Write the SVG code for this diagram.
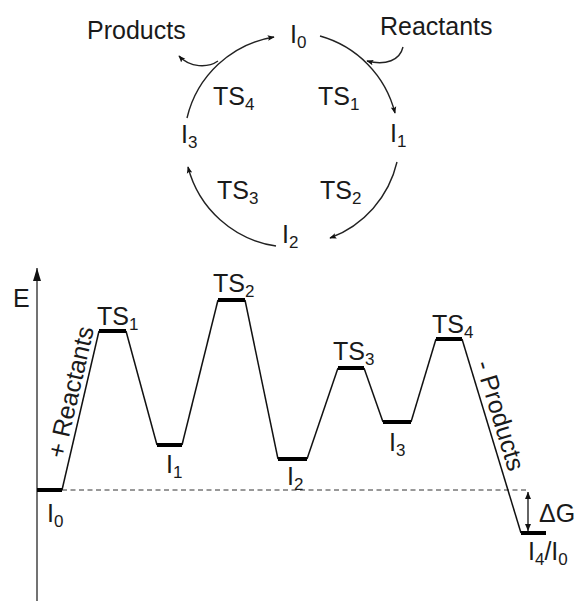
<svg xmlns="http://www.w3.org/2000/svg" width="578" height="601" viewBox="0 0 578 601">
<style>
text{font-family:"Liberation Sans",Arial,sans-serif;font-size:25px;fill:#1a1a1a}
.s{font-size:17px}
.arc{fill:none;stroke:#222;stroke-width:1.4}
.lvl{stroke:#000;stroke-width:4;fill:none}
.conn{stroke:#111;stroke-width:1.5;fill:none}
</style>
<defs>
<marker id="ah" viewBox="0 0 10 10" refX="9" refY="5" markerWidth="7" markerHeight="7" markerUnits="userSpaceOnUse" orient="auto">
<path d="M0,1 L10,5 L0,9 L2,5 Z" fill="#111"/>
</marker>
<marker id="ax" viewBox="0 0 10 10" refX="10" refY="5" markerWidth="13" markerHeight="8" markerUnits="userSpaceOnUse" orient="auto" preserveAspectRatio="none">
<path d="M0,0 L10,5 L0,10 Z" fill="#111"/>
</marker>
<marker id="dg" viewBox="0 0 10 10" refX="10" refY="5" markerWidth="7" markerHeight="6" markerUnits="userSpaceOnUse" orient="auto-start-reverse" preserveAspectRatio="none">
<path d="M0,0 L10,5 L0,10 Z" fill="#111"/>
</marker>
</defs>

<!-- catalytic cycle -->
<g id="cycle-connectors">
<path class="arc" d="M187,118 A107,107 0 0 1 274,37" marker-end="url(#ah)"/>
<path class="arc" d="M320,36 A107,107 0 0 1 395,113" marker-end="url(#ah)"/>
<path class="arc" d="M397,162 A107,107 0 0 1 330,238" marker-end="url(#ah)"/>
<path class="arc" d="M276,246 A107,107 0 0 1 188,167" marker-end="url(#ah)"/>
<path class="arc" d="M403,47 C400,60 386,66 367,61" marker-end="url(#ah)"/>
<path class="arc" d="M218,61 C208,68 190,68 179,56" marker-end="url(#ah)"/>
</g>
<g id="c-I0"><text x="290" y="43">I<tspan class="s" dy="5">0</tspan></text></g>
<g id="c-I1"><text x="390" y="142">I<tspan class="s" dy="5">1</tspan></text></g>
<g id="c-I2"><text x="282" y="243">I<tspan class="s" dy="5">2</tspan></text></g>
<g id="c-I3"><text x="181" y="143">I<tspan class="s" dy="5">3</tspan></text></g>
<g id="c-TS1"><text x="318" y="105">TS<tspan class="s" dy="5">1</tspan></text></g>
<g id="c-TS2"><text x="320" y="199">TS<tspan class="s" dy="5">2</tspan></text></g>
<g id="c-TS3"><text x="217" y="199">TS<tspan class="s" dy="5">3</tspan></text></g>
<g id="c-TS4"><text x="213" y="105">TS<tspan class="s" dy="5">4</tspan></text></g>
<g id="c-products"><text x="87" y="39">Products</text></g>
<g id="c-reactants"><text x="380" y="35">Reactants</text></g>

<!-- energy profile -->
<g id="axis">
<line x1="37" y1="601" x2="37" y2="268" stroke="#444" stroke-width="1.5" marker-end="url(#ax)"/>
<text x="13" y="307">E</text>
</g>
<g id="profile-connectors">
<line x1="62" y1="490" x2="528" y2="490" stroke="#333" stroke-width="1" stroke-dasharray="5,3.5"/>
<polyline class="conn" points="62,490 99,331"/>
<polyline class="conn" points="126,331 157,445"/>
<polyline class="conn" points="182,445 218,300"/>
<polyline class="conn" points="245,300 278,459"/>
<polyline class="conn" points="307,459 338,368"/>
<polyline class="conn" points="364,368 383,422"/>
<polyline class="conn" points="411,422 436,339"/>
<polyline class="conn" points="462,339 521,533"/>
<line x1="528" y1="492" x2="528" y2="531" stroke="#111" stroke-width="1.3" marker-start="url(#dg)" marker-end="url(#dg)"/>
</g>
<g id="e-I0"><line class="lvl" x1="37" y1="490" x2="62" y2="490"/><text x="47" y="522">I<tspan class="s" dy="5">0</tspan></text></g>
<g id="e-TS1"><line class="lvl" x1="99" y1="331" x2="126" y2="331"/><text x="97" y="325">TS<tspan class="s" dy="5">1</tspan></text></g>
<g id="e-I1"><line class="lvl" x1="157" y1="445" x2="182" y2="445"/><text x="166" y="473">I<tspan class="s" dy="5">1</tspan></text></g>
<g id="e-TS2"><line class="lvl" x1="218" y1="300" x2="245" y2="300"/><text x="213" y="292">TS<tspan class="s" dy="5">2</tspan></text></g>
<g id="e-I2"><line class="lvl" x1="278" y1="459" x2="307" y2="459"/><text x="287" y="485">I<tspan class="s" dy="5">2</tspan></text></g>
<g id="e-TS3"><line class="lvl" x1="338" y1="368" x2="364" y2="368"/><text x="333" y="360">TS<tspan class="s" dy="5">3</tspan></text></g>
<g id="e-I3"><line class="lvl" x1="383" y1="422" x2="411" y2="422"/><text x="389" y="451">I<tspan class="s" dy="5">3</tspan></text></g>
<g id="e-TS4"><line class="lvl" x1="436" y1="339" x2="462" y2="339"/><text x="432" y="333">TS<tspan class="s" dy="5">4</tspan></text></g>
<g id="e-I4"><line class="lvl" x1="521" y1="533" x2="546" y2="533"/><text x="528" y="560">I<tspan class="s" dy="5">4</tspan><tspan dy="-5">/I</tspan><tspan class="s" dy="5">0</tspan></text></g>
<g id="e-dG"><text x="539" y="522">ΔG</text></g>
<g id="e-reactants"><text transform="translate(79,394) rotate(-77)" text-anchor="middle">+ Reactants</text></g>
<g id="e-products"><text transform="translate(492,418) rotate(73)" text-anchor="middle">- Products</text></g>
</svg>
